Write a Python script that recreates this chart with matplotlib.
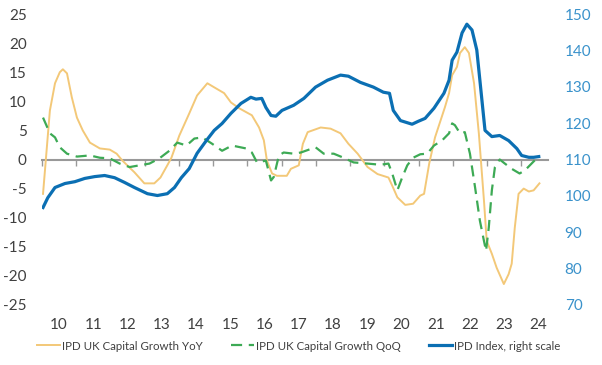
import matplotlib
matplotlib.use("Agg")
import matplotlib.pyplot as plt
import matplotlib.transforms as mtransforms

plt.rcParams['font.family'] = ['Lato', 'DejaVu Sans']

# ---- data (fractional years) ----
yoy_t = [2010.03, 2010.23, 2010.38, 2010.52, 2010.61, 2010.73, 2010.87, 2011.02, 2011.19, 2011.40,
         2011.69, 2011.98, 2012.18, 2012.35, 2012.70, 2012.99, 2013.28, 2013.46, 2013.66, 2013.78,
         2014.01, 2014.30, 2014.53, 2014.83, 2015.03, 2015.32, 2015.52, 2015.76, 2016.13, 2016.34,
         2016.48, 2016.57, 2016.72, 2016.86, 2017.15, 2017.27, 2017.50, 2017.62, 2017.76, 2018.14,
         2018.43, 2018.72, 2018.95, 2019.22, 2019.51, 2019.80, 2020.12, 2020.23, 2020.38, 2020.61,
         2020.84, 2021.05, 2021.16, 2021.31, 2021.48, 2021.77, 2021.89, 2021.98, 2022.12, 2022.21,
         2022.35, 2022.47, 2022.62, 2022.76, 2022.91, 2022.99, 2023.14, 2023.28, 2023.49, 2023.63,
         2023.72, 2023.81, 2023.92, 2024.07, 2024.22, 2024.36, 2024.53]
yoy_v = [-5.9, 8.4, 13.1, 15.0, 15.5, 14.8, 10.7, 7.2, 5.0, 2.9,
         1.9, 1.7, 1.0, -0.2, -2.2, -4.1, -4.1, -3.1, -1.0, 0.3,
         4.1, 7.9, 11.0, 13.1, 12.4, 11.4, 9.8, 8.8, 7.6, 5.5,
         3.3, -0.2, -2.4, -2.8, -2.8, -1.6, -1.0, 2.7, 4.7, 5.5,
         5.3, 4.5, 2.7, 1.0, -1.3, -2.5, -3.1, -4.5, -6.5, -7.8,
         -7.6, -6.2, -5.9, -0.7, 3.8, 9.0, 11.4, 14.5, 15.9, 18.3,
         19.3, 18.3, 13.1, 4.5, -7.1, -14.0, -16.2, -18.6, -21.4, -19.7,
         -17.9, -11.7, -5.9, -5.0, -5.5, -5.3, -4.1]

qoq_t = [2010.03, 2010.23, 2010.38, 2010.52, 2010.73, 2011.02, 2011.40, 2011.69, 2011.98, 2012.27,
         2012.56, 2012.85, 2013.14, 2013.43, 2013.72, 2013.95, 2014.22, 2014.45, 2014.68, 2014.97,
         2015.26, 2015.55, 2015.96, 2016.13, 2016.28, 2016.54, 2016.69, 2016.77, 2016.92, 2017.06,
         2017.35, 2017.56, 2017.99, 2018.23, 2018.52, 2018.81, 2019.10, 2019.51, 2019.88, 2020.12,
         2020.23, 2020.38, 2020.52, 2020.67, 2020.84, 2021.05, 2021.25, 2021.45, 2021.69, 2021.89,
         2021.98, 2022.06, 2022.21, 2022.35, 2022.50, 2022.65, 2022.79, 2022.91, 2022.97, 2023.05,
         2023.14, 2023.23, 2023.37, 2023.52, 2023.72, 2023.95, 2024.10, 2024.30, 2024.45]
qoq_v = [7.2, 4.5, 3.8, 2.1, 1.0, 0.5, 0.7, 0.3, 0.2, -0.7,
         -1.3, -1.0, -0.7, 0.2, 1.5, 2.9, 2.4, 3.6, 3.8, 2.7,
         1.5, 2.4, 1.9, 1.2, -0.5, -0.2, -3.6, -3.0, 0.7, 1.2,
         1.0, 1.2, 2.1, 1.0, 1.0, 0.3, -0.5, -0.7, -0.9, -0.7,
         -2.4, -5.3, -3.1, -1.0, 0.3, 0.9, 1.0, 2.4, 3.3, 4.5,
         6.2, 5.9, 4.5, 4.7, 1.0, -4.8, -10.5, -14.0, -15.7, -11.7,
         -5.3, -1.3, 0.0, -0.7, -1.6, -2.4, -1.9, -0.7, 0.2]

idx_t = [2010.03, 2010.17, 2010.38, 2010.67, 2010.96, 2011.25, 2011.54, 2011.83, 2012.12, 2012.41,
         2012.70, 2013.08, 2013.37, 2013.66, 2013.87, 2014.07, 2014.30, 2014.53, 2014.80, 2015.03,
         2015.26, 2015.52, 2015.81, 2016.10, 2016.25, 2016.42, 2016.54, 2016.69, 2016.83, 2017.01,
         2017.35, 2017.65, 2017.99, 2018.34, 2018.72, 2018.95, 2019.30, 2019.68, 2019.97, 2020.15,
         2020.26, 2020.47, 2020.81, 2020.99, 2021.19, 2021.45, 2021.74, 2021.89, 2021.98, 2022.12,
         2022.27, 2022.41, 2022.56, 2022.70, 2022.85, 2022.94, 2023.14, 2023.37, 2023.63, 2023.87,
         2024.01, 2024.22, 2024.36, 2024.51]
idx_v = [96.8, 99.5, 102.3, 103.4, 103.9, 104.8, 105.3, 105.6, 105.0, 103.7,
         102.3, 100.6, 100.1, 100.6, 102.3, 105.0, 107.5, 111.7, 115.2, 118.0,
         119.9, 122.7, 125.4, 127.1, 126.6, 126.8, 124.3, 122.1, 121.9, 123.5,
         124.9, 126.8, 129.9, 131.8, 133.2, 132.9, 131.2, 129.9, 128.5, 128.2,
         123.5, 120.7, 119.7, 120.5, 121.3, 124.1, 128.2, 131.8, 137.3, 139.5,
         144.8, 147.2, 145.6, 140.1, 126.3, 118.0, 116.3, 116.6, 115.2, 113.0,
         111.1, 110.6, 110.6, 110.8]

years = list(range(2010, 2025))
year_labels = [str(y % 100) for y in years]
left_ticks = [25, 20, 15, 10, 5, 0, -5, -10, -15, -20, -25]
right_ticks = [150, 140, 130, 120, 110, 100, 90, 80, 70]

C_YOY = '#F3C878'
C_QOQ = '#3DAA55'
C_IDX = '#0B6FB3'
C_RIGHT = '#3A92CB'
C_TXT = '#404040'
C_AX = '#999999'

fig = plt.figure(figsize=(6.02, 3.65), dpi=100)
ax = fig.add_axes([42/602, 1-305/365, (548-42)/602, (305-14)/365])
ax2 = ax.twinx()

l1, = ax.plot(yoy_t, yoy_v, color=C_YOY, lw=1.4, label='IPD UK Capital Growth YoY', zorder=3)
l2, = ax.plot(qoq_t, qoq_v, color=C_QOQ, lw=1.6, dashes=(5, 3), label='IPD UK Capital Growth QoQ', zorder=3)
l3, = ax2.plot(idx_t, idx_v, color=C_IDX, lw=2.3, label='IPD Index, right scale', zorder=4)

ax.set_xlim(2010, 2024.78)
ax.set_ylim(-25, 25)
ax2.set_ylim(70, 150)

for s in ['top', 'right', 'left']:
    ax.spines[s].set_visible(False)
for s in ['top', 'right', 'left', 'bottom']:
    ax2.spines[s].set_visible(False)
ax.spines['bottom'].set_position(('data', 0))
ax.spines['bottom'].set_color(C_AX)
ax.spines['bottom'].set_linewidth(1.5)
ax.spines['bottom'].set_zorder(2)

ax.set_xticks(years)
ax.set_xticklabels([])
ax.tick_params(axis='x', direction='out', length=4, width=1, color=C_AX)

ax.set_yticks(left_ticks)
ax.set_yticklabels([str(v) for v in left_ticks])
ax.tick_params(axis='y', length=0, pad=11, labelsize=11, labelcolor=C_TXT)

ax2.set_yticks(right_ticks)
ax2.tick_params(axis='y', length=0, pad=12, labelsize=11, labelcolor=C_RIGHT)

trans = mtransforms.blended_transform_factory(ax.transData, ax.transAxes)
for y, lab in zip(years, year_labels):
    ax.text(y + 0.5, -0.07, lab, transform=trans, ha='center', va='center',
            fontsize=11, color=C_TXT)

leg = fig.legend(handles=[l1, l2, l3], loc='center left', bbox_to_anchor=(37/602, 1-346/365),
                 ncol=3, frameon=False, fontsize=8.3, handlelength=2.0, handletextpad=0.2,
                 columnspacing=2.4, borderaxespad=0, borderpad=0)
for t in leg.get_texts():
    t.set_color(C_TXT)

fig.savefig('out.png', dpi=100)
